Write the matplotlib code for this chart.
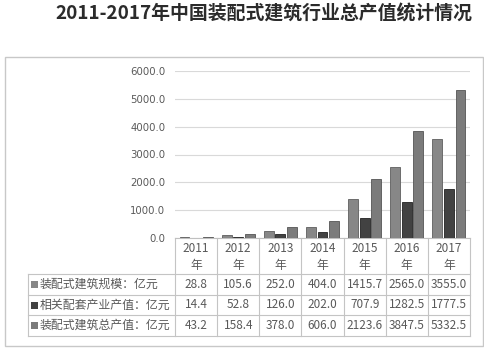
import matplotlib
matplotlib.use("Agg")
import matplotlib.pyplot as plt
from matplotlib.patches import Rectangle

plt.rcParams['font.family'] = ['Noto Sans CJK SC', 'DejaVu Sans']

title = "2011-2017年中国装配式建筑行业总产值统计情况"
years = ["2011", "2012", "2013", "2014", "2015", "2016", "2017"]
series_names = ["装配式建筑规模：亿元", "相关配套产业产值：亿元", "装配式建筑总产值：亿元"]
scale_vals = [28.8, 105.6, 252.0, 404.0, 1415.7, 2565.0, 3555.0]
support_vals = [14.4, 52.8, 126.0, 202.0, 707.9, 1282.5, 1777.5]
total_vals = [43.2, 158.4, 378.0, 606.0, 2123.6, 3847.5, 5332.5]
yticks = [0, 1000, 2000, 3000, 4000, 5000, 6000]

series = [scale_vals, support_vals, total_vals]
colors = ["#878787", "#424242", "#7b7b7b"]
edges = ["#5e5e5e", "#222222", "#555555"]

W, H = 485, 353
fig = plt.figure(figsize=(W / 100, H / 100), dpi=100)
fig.patch.set_facecolor("white")

# overlay axes in pixel coordinates
ov = fig.add_axes([0, 0, 1, 1])
ov.set_xlim(0, W)
ov.set_ylim(H, 0)
ov.axis("off")

ov.text(264, 14, title, ha="center", va="center", fontsize=13.6,
        fontweight="bold", color="#2b2b2b")
# outer frame
ov.add_patch(Rectangle((5, 57), 478, 289, fill=False, edgecolor="#c8c8c8", lw=1.0))

# bar chart axes
x0, x1 = 175, 470
y_top, y_bot = 71, 238
ax = fig.add_axes([x0 / W, 1 - y_bot / H, (x1 - x0) / W, (y_bot - y_top) / H])
ax.set_facecolor("none")
n = len(years)
ax.set_xlim(-0.5, n - 0.5)
ax.set_ylim(0, 6000)
step = 0.275
bw = 0.235
for i, (vals, c, ec) in enumerate(zip(series, colors, edges)):
    xs = [k + (i - 1) * step for k in range(n)]
    ax.bar(xs, vals, width=bw, color=c, edgecolor=ec, linewidth=0.6, zorder=3)
ax.set_yticks(yticks)
ax.set_yticklabels([f"{v:.1f}" for v in yticks], fontsize=7.3, color="#595959",
                   family=["DejaVu Sans"])
ax.tick_params(axis="y", length=0, pad=7)
ax.set_xticks([])
ax.yaxis.grid(True, color="#d9d9d9", lw=0.8, zorder=0)
for s in ["top", "right", "left"]:
    ax.spines[s].set_visible(False)
ax.spines["bottom"].set_color("#c0c0c0")
ax.spines["bottom"].set_linewidth(0.8)

# data table
lc = "#c4c4c4"
tc = "#595959"
col_w = (x1 - x0) / n
lab_x = 28
hdr_top, hdr_bot = 238, 274
row_edges = [274, 295, 315, 336]
# vertical lines
for k in range(n + 1):
    xx = x0 + k * col_w
    ov.plot([xx, xx], [hdr_top, row_edges[-1]], color=lc, lw=0.8)
ov.plot([lab_x, lab_x], [row_edges[0], row_edges[-1]], color=lc, lw=0.8)
for yy in row_edges:
    ov.plot([lab_x, x1], [yy, yy], color=lc, lw=0.8)
# header
for k, y in enumerate(years):
    cx = x0 + (k + 0.5) * col_w
    ov.text(cx, 249, y, ha="center", va="center", fontsize=8.5, color=tc)
    ov.text(cx, 265, "年", ha="center", va="center", fontsize=8.5, color=tc)
# rows
for r, (name, vals, c) in enumerate(zip(series_names, series, colors)):
    cy = (row_edges[r] + row_edges[r + 1]) / 2
    ov.add_patch(Rectangle((31, cy - 3.5), 7, 7, facecolor=c, edgecolor="none"))
    ov.text(40, cy, name, ha="left", va="center", fontsize=8.6, color=tc)
    for k, v in enumerate(vals):
        cx = x0 + (k + 0.5) * col_w
        ov.text(cx, cy, f"{v:.1f}", ha="center", va="center", fontsize=8.5, color=tc)

fig.savefig("out.png", dpi=100)
